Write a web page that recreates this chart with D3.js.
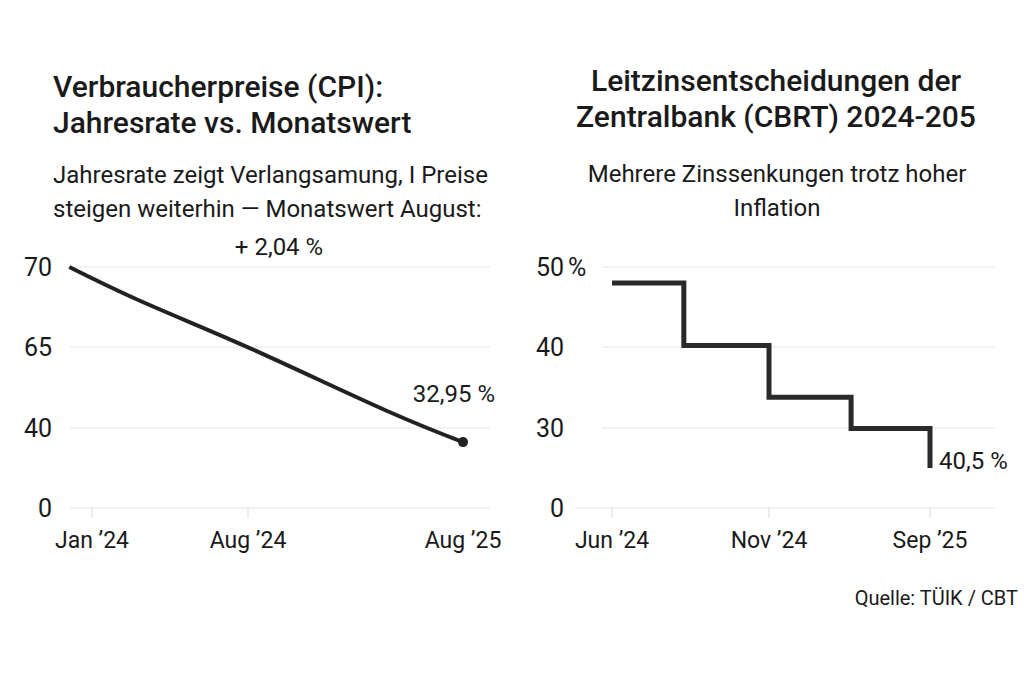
<!DOCTYPE html>
<html>
<head>
<meta charset="utf-8">
<script src="https://cdn.jsdelivr.net/npm/d3@7"></script>
<style>
  body { margin: 0; background: #fff; }
  svg { display: block; font-family: "Liberation Sans Narrow", "Roboto", sans-serif; }
  .grid line { stroke: #e6e6e6; stroke-width: 1; }
  .tick-mark { stroke: #d8d8d8; stroke-width: 1; }
  text { fill: #1a1a1a; }
</style>
</head>
<body>
<svg id="chart" width="1024" height="683"></svg>
<script>
// CPI (left panel) - yearly rate
const cpiDates = ["2023-12-01", "2024-03-01", "2024-08-01", "2025-04-01", "2025-08-01"];
const cpiValues = [70, 68, 64.9, 44.7, 32.95];
const cpiTicksY = [0, 40, 65, 70];
const cpiTicksX = ["2024-01-01", "2024-08-01", "2025-08-01"];
const cpiTickLabels = ["Jan \u201924", "Aug \u201924", "Aug \u201925"];

// policy rate (right panel) - step line
const rateDates = ["2024-06-01", "2024-08-10", "2024-11-01", "2025-04-05", "2025-09-01"];
const rateValues = [48, 40.2, 33.8, 29.8, 15];
const rateTicksY = [0, 30, 40, 50];
const rateTicksX = ["2024-06-01", "2024-11-01", "2025-09-01"];
const rateTickLabels = ["Jun \u201924", "Nov \u201924", "Sep \u201925"];

const parse = d3.timeParse("%Y-%m-%d");
const svg = d3.select("#chart");

// titles
function lines(x, ys, arr, size, weight, anchor) {
    arr.forEach((t, i) => {
        svg.append("text")
            .attr("x", x).attr("y", ys[i])
            .attr("font-size", size)
            .attr("font-weight", weight)
            .attr("text-anchor", anchor)
            .text(t);
    });
}
lines(53, [97, 133], ["Verbraucherpreise (CPI):", "Jahresrate vs. Monatswert"], 30, 500, "start");
lines(53, [183, 217], ["Jahresrate zeigt Verlangsamung, I Preise", "steigen weiterhin \u2014 Monatswert August:"], 24, 400, "start");
lines(279, [255], ["+ 2,04 %"], 24, 400, "middle");
lines(776, [91, 127], ["Leitzinsentscheidungen der", "Zentralbank (CBRT) 2024-205"], 30, 500, "middle");
lines(777, [182, 216], ["Mehrere Zinssenkungen trotz hoher", "Inflation"], 24, 400, "middle");

// y positions of gridlines are evenly spaced even though the values are not
const yRange = [508, 428, 347, 267];

// ---------- left panel ----------
const xL = d3.scaleTime()
    .domain(cpiTicksX.map(parse))
    .range([92, 248, 463]);
const yL = d3.scaleLinear().domain(cpiTicksY).range(yRange);

svg.append("g").attr("class", "grid")
    .selectAll("line").data(cpiTicksY).enter().append("line")
    .attr("x1", 70).attr("x2", 490)
    .attr("y1", d => yL(d)).attr("y2", d => yL(d));

svg.append("g").selectAll("text").data(cpiTicksY).enter().append("text")
    .attr("x", 52).attr("y", d => yL(d) + 9)
    .attr("text-anchor", "end").attr("font-size", 25)
    .text(d => d);

svg.append("g").selectAll("line").data(cpiTicksX.slice(0, 2)).enter().append("line")
    .attr("class", "tick-mark")
    .attr("x1", d => xL(parse(d))).attr("x2", d => xL(parse(d)))
    .attr("y1", 508).attr("y2", 518);

svg.append("g").selectAll("text").data(cpiTicksX).enter().append("text")
    .attr("x", d => xL(parse(d))).attr("y", 548)
    .attr("text-anchor", "middle").attr("font-size", 23)
    .text((d, i) => cpiTickLabels[i]);

const cpiData = cpiDates.map((d, i) => ({ date: parse(d), value: cpiValues[i] }));
svg.append("path")
    .datum(cpiData)
    .attr("fill", "none")
    .attr("stroke", "#222")
    .attr("stroke-width", 4)
    .attr("stroke-linejoin", "round")
    .attr("d", d3.line().x(d => xL(d.date)).y(d => yL(d.value)).curve(d3.curveCatmullRom.alpha(0.1)));

const last = cpiData[cpiData.length - 1];
svg.append("circle")
    .attr("cx", xL(last.date)).attr("cy", yL(last.value))
    .attr("r", 5).attr("fill", "#222");
svg.append("text")
    .attr("x", 495).attr("y", 402)
    .attr("text-anchor", "end").attr("font-size", 24)
    .text("32,95 %");

// ---------- right panel ----------
const xR = d3.scaleTime()
    .domain(rateTicksX.map(parse))
    .range([612, 769, 930]);
const yR = d3.scaleLinear().domain(rateTicksY).range(yRange);

svg.append("g").attr("class", "grid")
    .selectAll("line").data(rateTicksY).enter().append("line")
    .attr("x1", d => d === 0 ? 575 : 602).attr("x2", 995)
    .attr("y1", d => yR(d)).attr("y2", d => yR(d));

svg.append("g").selectAll("text").data(rateTicksY).enter().append("text")
    .attr("x", 564).attr("y", d => yR(d) + 9)
    .attr("text-anchor", "end").attr("font-size", 25)
    .text(d => d);
svg.append("text")
    .attr("x", 568).attr("y", yR(50) + 9)
    .attr("font-size", 25)
    .text("%");

svg.append("g").selectAll("line").data(rateTicksX).enter().append("line")
    .attr("class", "tick-mark")
    .attr("x1", d => xR(parse(d))).attr("x2", d => xR(parse(d)))
    .attr("y1", 508).attr("y2", 518);

svg.append("g").selectAll("text").data(rateTicksX).enter().append("text")
    .attr("x", d => xR(parse(d))).attr("y", 548)
    .attr("text-anchor", "middle").attr("font-size", 23)
    .text((d, i) => rateTickLabels[i]);

const rateData = rateDates.map((d, i) => ({ date: parse(d), value: rateValues[i] }));
svg.append("path")
    .datum(rateData)
    .attr("fill", "none")
    .attr("stroke", "#2a2a2a")
    .attr("stroke-width", 5)
    .attr("d", d3.line().x(d => xR(d.date)).y(d => yR(d.value)).curve(d3.curveStepAfter));

svg.append("text")
    .attr("x", 939).attr("y", 469)
    .attr("font-size", 24)
    .text("40,5 %");

// source
svg.append("text")
    .attr("x", 1018).attr("y", 605)
    .attr("text-anchor", "end").attr("font-size", 20)
    .text("Quelle: T\u00dcIK / CBT");
</script>
</body>
</html>
